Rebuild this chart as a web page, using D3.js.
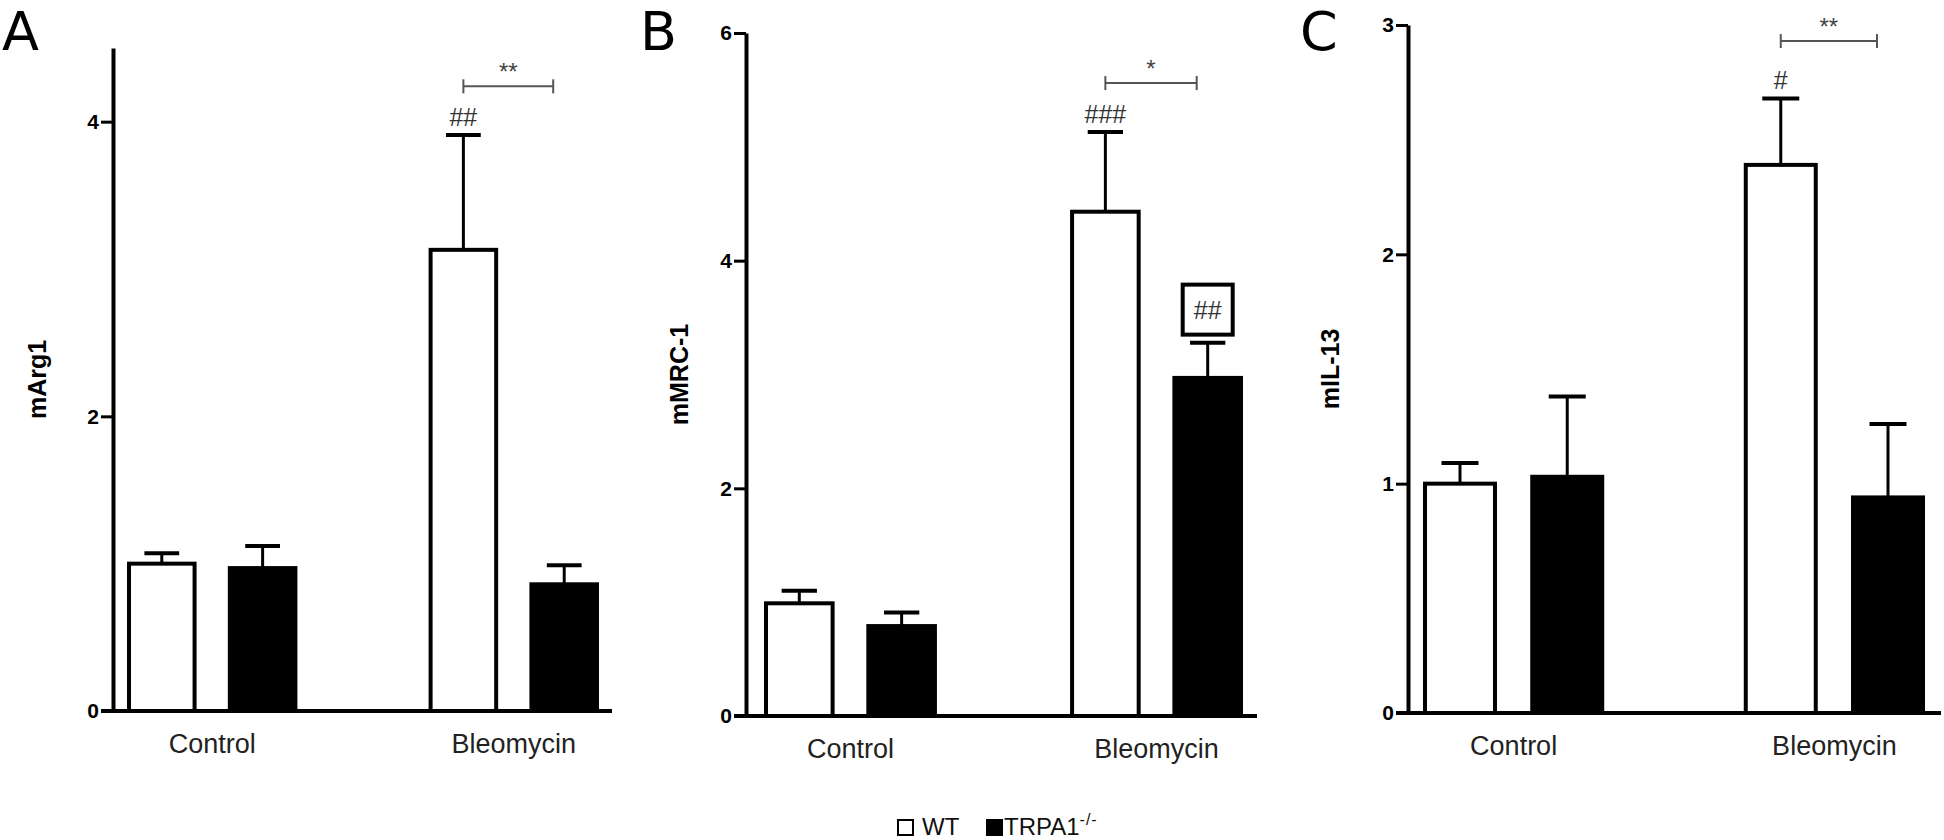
<!DOCTYPE html>
<html>
<head>
<meta charset="utf-8">
<script src="https://cdn.jsdelivr.net/npm/d3@7"></script>
<style>
  html, body { margin: 0; padding: 0; background: #fff; }
  svg { display: block; }
</style>
</head>
<body>
<div id="chart"></div>
<script>
const groups = ['Control', 'Bleomycin'];
const seriesNames = ['WT', 'TRPA1'];
const panelLetters = ['A', 'B', 'C'];
const yLabels = ['mArg1', 'mMRC-1', 'mIL-13'];
const yMaxes = [4.5, 6, 3];
const yTickValues = [[0, 2, 4], [0, 2, 4, 6], [0, 1, 2, 3]];
const wtMeans = [[1.0, 3.13], [0.99, 4.43], [1.0, 2.39]];
const wtErrors = [[0.07, 0.78], [0.11, 0.70], [0.09, 0.29]];
const koMeans = [[0.97, 0.86], [0.79, 2.97], [1.03, 0.94]];
const koErrors = [[0.15, 0.13], [0.12, 0.31], [0.35, 0.32]];
const wtHashes = [['', '##'], ['', '###'], ['', '#']];
const koHashes = [['', ''], ['', '##'], ['', '']];
const sigStars = ['**', '*', '**'];
const sigLevels = [4.24, 5.56, 2.93];

const WIDTH = 1944;
const HEIGHT = 840;
const SANS = "'Liberation Sans', Arial, sans-serif";

// pixel layout of the three panels
const layout = [
  { axisX: 113, axisEnd: 612, y0: 711, yTop: 48, barsFrom: 127, barsTo: 599, letterX: 2, labelDx: 76 },
  { axisX: 746, axisEnd: 1257, y0: 716, yTop: 33, barsFrom: 764, barsTo: 1243, letterX: 640, labelDx: 67 },
  { axisX: 1408, axisEnd: 1941, y0: 713, yTop: 25, barsFrom: 1423, barsTo: 1925, letterX: 1300, labelDx: 78 },
];

const svg = d3.select('#chart').append('svg').attr('width', WIDTH).attr('height', HEIGHT);

const drawPanel = (i) => {
  const L = layout[i];
  const g = svg.append('g');

  const y = d3.scaleLinear().domain([0, yMaxes[i]]).range([L.y0, L.yTop]);
  const xGroup = d3.scaleBand().domain(groups).range([L.barsFrom, L.barsTo]).paddingInner(0.435);
  const xSeries = d3.scaleBand().domain(seriesNames).range([0, xGroup.bandwidth()]).paddingInner(0.31);
  const bw = xSeries.bandwidth();

  const rows = groups.flatMap((grp, j) => [
    { grp, s: 'WT', mean: wtMeans[i][j], err: wtErrors[i][j], hash: wtHashes[i][j], boxed: false },
    { grp, s: 'TRPA1', mean: koMeans[i][j], err: koErrors[i][j], hash: koHashes[i][j], boxed: true },
  ]);
  const cx = (d) => xGroup(d.grp) + xSeries(d.s) + bw / 2;

  // error bars (drawn first so bar tops cover them)
  g.selectAll('.err')
    .data(rows)
    .join('line')
    .attr('x1', cx).attr('x2', cx)
    .attr('y1', (d) => y(d.mean)).attr('y2', (d) => y(d.mean + d.err))
    .attr('stroke', '#000').attr('stroke-width', 3);
  g.selectAll('.cap')
    .data(rows)
    .join('line')
    .attr('x1', (d) => cx(d) - bw / 4).attr('x2', (d) => cx(d) + bw / 4)
    .attr('y1', (d) => y(d.mean + d.err)).attr('y2', (d) => y(d.mean + d.err))
    .attr('stroke', '#000').attr('stroke-width', 4);

  g.selectAll('.bar')
    .data(rows)
    .join('rect')
    .attr('x', (d) => xGroup(d.grp) + xSeries(d.s) + 2)
    .attr('width', bw - 4)
    .attr('y', (d) => y(d.mean))
    .attr('height', (d) => L.y0 - y(d.mean))
    .attr('fill', (d) => (d.s === 'WT' ? '#fff' : '#000'))
    .attr('stroke', '#000')
    .attr('stroke-width', 4);

  // hash marks above bars
  const marked = rows.filter((d) => d.hash);
  marked.forEach((d) => {
    const top = y(d.mean + d.err);
    if (d.boxed) {
      g.append('rect')
        .attr('x', cx(d) - 25).attr('y', top - 58)
        .attr('width', 50).attr('height', 50)
        .attr('fill', '#fff').attr('stroke', '#000').attr('stroke-width', 4);
      g.append('text')
        .attr('x', cx(d)).attr('y', top - 24)
        .attr('text-anchor', 'middle')
        .attr('font-family', SANS).attr('font-size', 25).attr('fill', '#333')
        .text(d.hash);
    } else {
      g.append('text')
        .attr('x', cx(d)).attr('y', top - 9)
        .attr('text-anchor', 'middle')
        .attr('font-family', SANS).attr('font-size', 25).attr('fill', '#333')
        .text(d.hash);
    }
  });

  // significance bracket between the Bleomycin bars
  const bx1 = cx(rows[2]);
  const bx2 = cx(rows[3]) - 11;
  const by = y(sigLevels[i]);
  const bracket = g.append('g').attr('stroke', '#555').attr('stroke-width', 2);
  bracket.append('line').attr('x1', bx1).attr('x2', bx2).attr('y1', by).attr('y2', by);
  bracket.append('line').attr('x1', bx1).attr('x2', bx1).attr('y1', by - 7).attr('y2', by + 7);
  bracket.append('line').attr('x1', bx2).attr('x2', bx2).attr('y1', by - 7).attr('y2', by + 7);
  g.append('text')
    .attr('x', (bx1 + bx2) / 2).attr('y', by - 6)
    .attr('text-anchor', 'middle')
    .attr('font-family', SANS).attr('font-size', 24).attr('fill', '#444')
    .text(sigStars[i]);

  // y axis
  g.append('g')
    .attr('transform', `translate(${L.axisX},0)`)
    .call(
      d3.axisLeft(y).tickValues(yTickValues[i]).tickSize(12).tickSizeOuter(0)
        .tickPadding(2).tickFormat(d3.format('d'))
    )
    .call((ax) => {
      ax.select('.domain').attr('stroke', '#000').attr('stroke-width', 4);
      ax.selectAll('.tick line').attr('stroke', '#000').attr('stroke-width', 3);
      ax.selectAll('.tick text')
        .attr('font-family', SANS).attr('font-size', 21).attr('font-weight', 'bold').attr('fill', '#000');
    });

  // x axis line and category labels
  g.append('line')
    .attr('x1', L.axisX - 12).attr('x2', L.axisEnd)
    .attr('y1', L.y0).attr('y2', L.y0)
    .attr('stroke', '#000').attr('stroke-width', 4);
  g.append('g')
    .attr('transform', `translate(0,${L.y0})`)
    .call(d3.axisBottom(xGroup).tickSize(0).tickPadding(23))
    .call((ax) => {
      ax.select('.domain').remove();
      ax.selectAll('.tick text')
        .attr('font-family', SANS).attr('font-size', 27).attr('fill', '#222');
    });

  g.append('text')
    .attr('transform', `translate(${L.axisX - L.labelDx},${(L.y0 + L.yTop) / 2}) rotate(-90)`)
    .attr('text-anchor', 'middle')
    .attr('dy', '0.35em')
    .attr('font-family', SANS).attr('font-size', 25).attr('font-weight', 'bold')
    .text(yLabels[i]);

  g.append('text')
    .attr('x', L.letterX).attr('y', 50)
    .attr('font-family', "'DejaVu Sans', sans-serif").attr('font-size', 54)
    .text(panelLetters[i]);
};

panelLetters.forEach((_, i) => drawPanel(i));

// legend
const legendX = [898, 987];
const legend = svg.append('g').attr('transform', 'translate(0,835)');
seriesNames.forEach((name, i) => {
  legend.append('rect')
    .attr('x', legendX[i]).attr('y', -15)
    .attr('width', 15).attr('height', 15)
    .attr('fill', name === 'WT' ? '#fff' : '#000')
    .attr('stroke', '#000').attr('stroke-width', 2);
  const t = legend.append('text')
    .attr('x', legendX[i] + (name === 'WT' ? 24 : 17)).attr('y', 0)
    .attr('font-family', SANS).attr('font-size', 24).attr('fill', '#111')
    .text(name);
  if (name === 'TRPA1') {
    t.append('tspan').attr('dy', -10).attr('font-size', 16).attr('letter-spacing', 1).text('-/-');
  }
});
</script>
</body>
</html>
